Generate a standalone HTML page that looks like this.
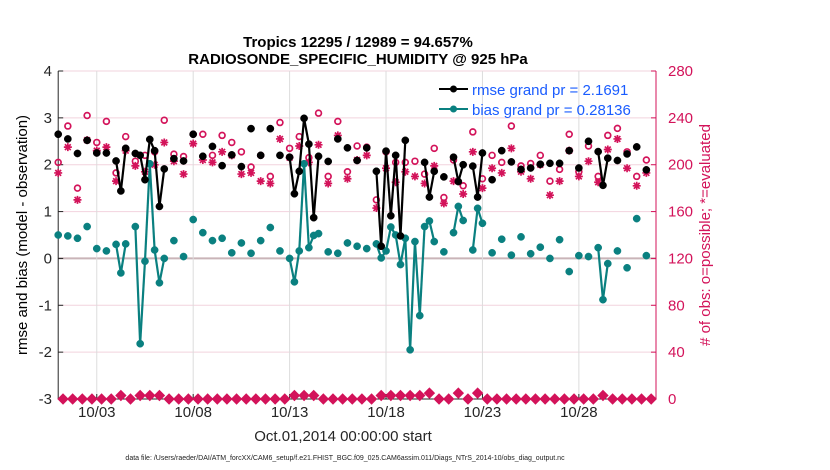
<!DOCTYPE html>
<html><head><meta charset="utf-8">
<style>
html,body{margin:0;padding:0;background:#fff;}
svg{display:block;font-family:"Liberation Sans",Arial,sans-serif;}
</style></head>
<body>
<svg id="chart" width="830" height="470" viewBox="0 0 830 470">
  <rect x="0" y="0" width="830" height="470" fill="#fff"/>
  <text x="358" y="47" text-anchor="middle" font-size="15" font-weight="bold">Tropics 12295 / 12989 = 94.657%</text>
  <text x="358" y="64" text-anchor="middle" font-size="15" font-weight="bold">RADIOSONDE_SPECIFIC_HUMIDITY @ 925 hPa</text>
  <g id="grid"></g>
  <g id="axes"></g>
  <g id="marks"></g>
  <text transform="translate(27,235) rotate(-90)" text-anchor="middle" font-size="15">rmse and bias (model - observation)</text>
  <text transform="translate(710,235) rotate(-90)" text-anchor="middle" font-size="15" fill="#d3135a"># of obs: o=possible; *=evaluated</text>
  <text x="343" y="441" text-anchor="middle" font-size="15" fill="#262626">Oct.01,2014 00:00:00 start</text>
  <text x="345" y="460" text-anchor="middle" font-size="7" fill="#222">data file: /Users/raeder/DAI/ATM_forcXX/CAM6_setup/f.e21.FHIST_BGC.f09_025.CAM6assim.011/Diags_NTrS_2014-10/obs_diag_output.nc</text>
  <g>
    <g>
      <line x1="439" y1="89" x2="468" y2="89" stroke="#000" stroke-width="2"/>
      <circle cx="453.5" cy="89" r="3.5" fill="#000"/>
      <text x="472" y="95" font-size="15" fill="#1a5cff">rmse grand pr = 2.1691</text>
    </g>
    <g>
      <line x1="439" y1="109" x2="468" y2="109" stroke="#0a8080" stroke-width="2"/>
      <circle cx="453.5" cy="109" r="3.5" fill="#0a8080"/>
      <text x="472" y="115" font-size="15" fill="#1a5cff">bias grand pr = 0.28136</text>
    </g>
  </g>
</svg>
<script>
// ---- data (time slots are 6-hour steps from Oct 1 00Z) ----
const slots = [0,2,4,6,8,10,12,13,14,16,17,18,19,20,21,22,24,26,28,30,32,34,36,38,40,42,44,46,48,49,50,51,52,53,54,56,58,60,62,64,66,67,68,69,70,71,72,73,74,75,76,77,78,80,82,83,84,86,87,88,90,92,94,96,98,100,102,104,106,108,110,112,113,114,116,118,120,122];
const rmse = [2.65,2.55,2.24,2.52,2.25,2.25,2.08,1.44,2.35,2.24,2.2,1.68,2.54,2.3,1.11,1.91,2.13,2.08,2.65,2.18,2.39,1.98,2.21,1.96,2.77,2.2,2.77,2.2,2.16,1.38,1.86,2.99,2.44,0.87,2.18,2.07,2.55,2.36,2.09,2.36,1.86,0.26,2.29,0.91,2.2,0.48,2.52,null,null,null,2.05,1.31,1.86,1.74,2.16,1.64,2.0,1.97,1.31,2.25,1.68,2.3,2.06,1.9,1.93,2.01,2.03,2.03,2.3,1.93,2.5,2.28,1.56,2.14,2.09,2.23,2.38,1.89];
const bias = [0.5,0.48,0.43,0.68,0.21,0.16,0.3,-0.31,0.31,0.68,-1.82,-0.06,2.02,0.18,-0.52,0.0,0.38,0.04,0.83,0.55,0.38,0.43,0.12,0.33,0.11,0.38,0.66,0.16,0,-0.5,0.16,2.02,0.23,0.49,0.53,0.14,0.11,0.33,0.26,0.21,0.31,0.01,0.16,0.67,0.5,-0.13,0.43,-1.95,0.36,-1.22,0.68,0.8,0.36,0.14,0.55,1.11,0.81,0.18,1.07,0.75,0.12,0.41,0.07,0.46,0.1,0.24,0,0.4,-0.28,0.06,0.04,0.23,-0.88,-0.11,0.16,-0.2,0.85,0.06];
// counts at 00Z/12Z (even slots 0..122)
const possible = [202,233,180,242,219,237,193,224,203,208,211,238,209,207,226,226,208,225,219,211,198,208,190,236,214,224,206,244,190,237,194,216,215,170,211,202,202,203,192,214,172,204,182,228,188,208,202,233,199,201,208,186,196,226,194,216,190,225,231,211,190,204];
const evaluated = [193,215,170,221,212,215,186,212,199,194,200,219,203,192,218,204,202,211,208,192,193,186,184,222,206,216,202,217,184,225,188,204,208,163,197,185,194,190,184,199,167,186,175,211,180,197,193,214,194,188,200,174,186,212,190,203,185,213,222,197,182,193];
// counts at 06Z/18Z (odd slots 1..123)
const offCounts = [0,0,0,0,0,0,3,0,3,3,3,0,0,0,0,0,0,0,0,0,0,0,0,0,3,3,3,0,0,0,0,0,0,3,3,3,3,3,5,0,0,5,0,5,0,0,0,0,0,0,0,0,0,0,0,0,3,0,0,0,0,0];
const leftTicks = [4,3,2,1,0,-1,-2,-3];
const rightTicks = [0,40,80,120,160,200,240,280];
const dateTicks = [2,7,12,17,22,27];
const dateLabels = ["10/03","10/08","10/13","10/18","10/23","10/28"];

// ---- scales ----
const X0 = 58.2, X1 = 656, DAYS = 31;
const Y_TOP = 71, Y_BOT = 399;
const xDay = d => X0 + d * (X1 - X0) / DAYS;
const xSlot = s => xDay(s / 4);
const yL = v => Y_BOT - (v - (-3)) * (Y_BOT - Y_TOP) / 7;
const yR = c => Y_BOT - c * (Y_BOT - Y_TOP) / 280;

const NS = "http://www.w3.org/2000/svg";
function mk(tag, attrs, parent) {
  const e = document.createElementNS(NS, tag);
  for (const k in attrs) e.setAttribute(k, attrs[k]);
  parent.appendChild(e);
  return e;
}
const grid = document.getElementById('grid');
const axes = document.getElementById('axes');
const marks = document.getElementById('marks');
const PINK = "#d3135a", TEAL = "#0a8080";

leftTicks.forEach(v => {
  const l = mk('line', {x1: X0, x2: X1, y1: yL(v), y2: yL(v), stroke: v === 0 ? "#c9b4b8" : "#f2d3de", 'stroke-width': v === 0 ? 2 : 1}, grid);
  
  
});
dateTicks.forEach(d => {
  const l = mk('line', {x1: xDay(d), x2: xDay(d), y1: Y_TOP, y2: Y_BOT, stroke: "#dcdcdc", 'stroke-width': 1}, grid);
  
  
});

let a = mk('line', {x1: X0, x2: X0, y1: Y_TOP, y2: Y_BOT, stroke: "#262626", 'stroke-width': 1}, axes);


a = mk('line', {x1: X0, x2: X1, y1: Y_BOT, y2: Y_BOT, stroke: "#262626", 'stroke-width': 1}, axes);


a = mk('line', {x1: X1, x2: X1, y1: Y_TOP, y2: Y_BOT, stroke: PINK, 'stroke-width': 1}, axes);



leftTicks.forEach(v => {
  mk('line', {x1: X0, x2: X0 + 5, y1: yL(v), y2: yL(v), stroke: "#262626"}, axes);
  const t = mk('text', {x: 52, y: yL(v) + 5, 'text-anchor': 'end', 'font-size': 15, fill: '#262626'}, axes);
  t.textContent = String(v);
  
  
});
rightTicks.forEach(c => {
  mk('line', {x1: X1 - 5, x2: X1, y1: yR(c), y2: yR(c), stroke: PINK}, axes);
  const t = mk('text', {x: 668, y: yR(c) + 5, 'text-anchor': 'start', 'font-size': 15, fill: PINK}, axes);
  t.textContent = String(c);
  
  
});
dateTicks.forEach((d, i) => {
  mk('line', {x1: xDay(d), x2: xDay(d), y1: Y_BOT, y2: Y_BOT - 5, stroke: "#262626"}, axes);
  const t = mk('text', {x: xDay(d), y: 417, 'text-anchor': 'middle', 'font-size': 15, fill: '#262626'}, axes);
  t.textContent = dateLabels[i];
  
  
});

function circleMark(cx, cy, filled, color, name) {
  const c = mk('circle', {cx: cx, cy: cy, r: filled ? 3.6 : 2.9, fill: filled ? color : 'none', stroke: color, 'stroke-width': filled ? 0.5 : 1.7}, marks);
  
  
}
function diamondMark(cx, cy, name) {
  const r = 5;
  const p = mk('path', {d: `M${cx},${cy - r}L${cx + r},${cy}L${cx},${cy + r}L${cx - r},${cy}Z`, fill: PINK, stroke: PINK, 'stroke-width': 1}, marks);
  
  
}
function starMark(cx, cy, name) {
  const r = 4, d = 2.9;
  const p = mk('path', {d: `M${cx - r},${cy}H${cx + r}M${cx},${cy - r}V${cy + r}M${cx - d},${cy - d}L${cx + d},${cy + d}M${cx - d},${cy + d}L${cx + d},${cy - d}`, stroke: PINK, 'stroke-width': 1.7, fill: 'none'}, marks);
  
  
}
function seriesLines(vals, color, name) {
  for (let i = 1; i < slots.length; i++) {
    if (slots[i] - slots[i - 1] === 1 && vals[i] !== null && vals[i - 1] !== null) {
      const l = mk('line', {x1: xSlot(slots[i - 1]), y1: yL(vals[i - 1]), x2: xSlot(slots[i]), y2: yL(vals[i]), stroke: color, 'stroke-width': 2.2}, marks);
      
      
    }
  }
}

possible.forEach((c, i) => circleMark(xSlot(i * 2), yR(c), false, PINK, 'possible-count-marker'));
evaluated.forEach((c, i) => starMark(xSlot(i * 2), yR(c), 'evaluated-count-marker'));
offCounts.forEach((c, i) => diamondMark(xSlot(i * 2 + 1), yR(c), 'offhour-count-marker'));

seriesLines(bias, TEAL, 'bias-line-segment');
bias.forEach((v, i) => { if (v !== null) circleMark(xSlot(slots[i]), yL(v), true, TEAL, 'bias-point'); });
seriesLines(rmse, '#000', 'rmse-line-segment');
rmse.forEach((v, i) => { if (v !== null) circleMark(xSlot(slots[i]), yL(v), true, '#000', 'rmse-point'); });
</script>
</body></html>
